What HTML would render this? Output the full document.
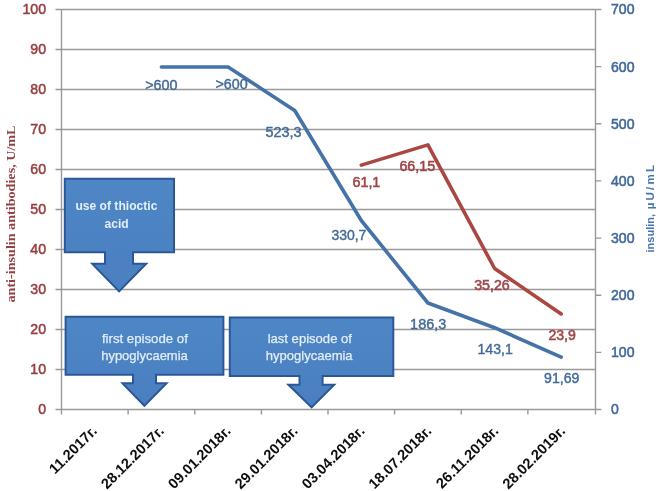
<!DOCTYPE html>
<html><head><meta charset="utf-8"><title>chart</title>
<style>
html,body{margin:0;padding:0;background:#fff;}
svg{display:block;}
text{font-family:"Liberation Sans",sans-serif;}
.ax{font-size:14.6px;stroke-width:0.55;}
.dl{font-size:13.8px;}
.xl{font-weight:bold;font-size:14.6px;fill:#111;}
.bx{font-weight:bold;font-size:12.6px;fill:#e2eff8;}
</style></head><body>
<svg width="661" height="491" viewBox="0 0 661 491">
<defs>
<linearGradient id="bg" x1="0" y1="0" x2="0" y2="1"><stop offset="0" stop-color="#4f86c6"/><stop offset="1" stop-color="#4a7fc0"/></linearGradient>
<filter id="blur" x="-5%" y="-5%" width="110%" height="110%"><feGaussianBlur stdDeviation="0.55"/></filter>
</defs>
<rect width="661" height="491" fill="#fff"/>
<g filter="url(#blur)">
<!-- gridlines -->
<g stroke="#999999" stroke-width="1.4" fill="none">
<path d="M61.5 9.5H595.5M61.5 49.5H595.5M61.5 89.5H595.5M61.5 129.5H595.5M61.5 169.5H595.5M61.5 209.5H595.5M61.5 249.5H595.5M61.5 289.5H595.5M61.5 329.5H595.5M61.5 369.5H595.5M61.5 409.5H595.5"/>
<path d="M61.5 9.5V414.5M595.5 9.5V414.5"/>
<!-- left ticks -->
<path d="M55.5 9.5H61.5M55.5 49.5H61.5M55.5 89.5H61.5M55.5 129.5H61.5M55.5 169.5H61.5M55.5 209.5H61.5M55.5 249.5H61.5M55.5 289.5H61.5M55.5 329.5H61.5M55.5 369.5H61.5M55.5 409.5H61.5"/>
<!-- right ticks -->
<path d="M595.5 9.5H601.3M595.5 66.6H601.3M595.5 123.8H601.3M595.5 180.9H601.3M595.5 238.1H601.3M595.5 295.2H601.3M595.5 352.4H601.3M595.5 409.5H601.3"/>
<!-- x ticks -->
<path d="M128.1 409.5V414.5M194.8 409.5V414.5M261.4 409.5V414.5M328 409.5V414.5M394.6 409.5V414.5M461.3 409.5V414.5M527.9 409.5V414.5"/>
</g>

<!-- arrows -->
<g fill="url(#bg)" stroke="#2c5996" stroke-width="2" stroke-linejoin="miter">
<path d="M64.8 178.8H174V252.3H133V263.8H146.2L119.1 291.4L92.2 263.8H105V252.3H64.8Z"/>
<path d="M65.6 316.8H223.4V374.8H156V383.2H166.6L144.4 405.8L122.4 383.2H133V374.8H65.6Z"/>
<path d="M229.8 317.6H393.3V376H322.6V384.7H334.2L311.6 407.3L288.4 384.7H299.5V376H229.8Z"/>
</g>
<g class="bx" text-anchor="middle" lengthAdjust="spacingAndGlyphs">
<text x="116.4" y="210" textLength="82" lengthAdjust="spacingAndGlyphs">use of thioctic</text>
<text x="116.6" y="227.6" textLength="24.2" lengthAdjust="spacingAndGlyphs">acid</text>
<g style="font-weight:normal;font-size:13px" stroke="#e2eff8" stroke-width="0.25">
<text x="144.9" y="343" textLength="86" lengthAdjust="spacingAndGlyphs">first episode of</text>
<text x="144.5" y="360.3" textLength="86.6" lengthAdjust="spacingAndGlyphs">hypoglycaemia</text>
<text x="309.8" y="342.5" textLength="84.3" lengthAdjust="spacingAndGlyphs">last episode of</text>
<text x="309.2" y="360.3" textLength="86.8" lengthAdjust="spacingAndGlyphs">hypoglycaemia</text>
</g>
</g>

<!-- lines -->
<polyline fill="none" stroke="#4573a7" stroke-width="3.6" stroke-linecap="round" stroke-linejoin="round" points="161.4,67 228.1,67 294.7,110.5 361.3,220.5 427.9,303 494.6,327.7 561.2,357.1"/>
<polyline fill="none" stroke="#aa4643" stroke-width="3.6" stroke-linecap="round" stroke-linejoin="round" points="361.3,165.1 427.9,144.9 494.6,268.5 561.2,313.9"/>

<!-- left axis labels -->
<g class="ax" fill="#973f42" stroke="#973f42" text-anchor="end">
<text x="46" y="14" textLength="23.5" lengthAdjust="spacingAndGlyphs">100</text>
<text x="46" y="54" textLength="15.7" lengthAdjust="spacingAndGlyphs">90</text>
<text x="46" y="94" textLength="15.7" lengthAdjust="spacingAndGlyphs">80</text>
<text x="46" y="134" textLength="15.7" lengthAdjust="spacingAndGlyphs">70</text>
<text x="46" y="174" textLength="15.7" lengthAdjust="spacingAndGlyphs">60</text>
<text x="46" y="214" textLength="15.7" lengthAdjust="spacingAndGlyphs">50</text>
<text x="46" y="254" textLength="15.7" lengthAdjust="spacingAndGlyphs">40</text>
<text x="46" y="294" textLength="15.7" lengthAdjust="spacingAndGlyphs">30</text>
<text x="46" y="334" textLength="15.7" lengthAdjust="spacingAndGlyphs">20</text>
<text x="46" y="374" textLength="15.7" lengthAdjust="spacingAndGlyphs">10</text>
<text x="46" y="414" textLength="7.8" lengthAdjust="spacingAndGlyphs">0</text>
</g>
<!-- right axis labels -->
<g class="ax" fill="#41699a" stroke="#41699a">
<text x="611" y="14" textLength="23.5" lengthAdjust="spacingAndGlyphs">700</text>
<text x="611" y="71.5" textLength="23.5" lengthAdjust="spacingAndGlyphs">600</text>
<text x="611" y="128.5" textLength="23.5" lengthAdjust="spacingAndGlyphs">500</text>
<text x="611" y="185.5" textLength="23.5" lengthAdjust="spacingAndGlyphs">400</text>
<text x="611" y="243" textLength="23.5" lengthAdjust="spacingAndGlyphs">300</text>
<text x="611" y="300" textLength="23.5" lengthAdjust="spacingAndGlyphs">200</text>
<text x="611" y="357" textLength="23.5" lengthAdjust="spacingAndGlyphs">100</text>
<text x="611" y="414" textLength="7.8" lengthAdjust="spacingAndGlyphs">0</text>
</g>
<!-- data labels -->
<g class="dl" fill="#41699a" stroke="#41699a" stroke-width="0.4">
<text x="145.2" y="89.5" textLength="32.3" lengthAdjust="spacingAndGlyphs">&gt;600</text>
<text x="215.5" y="88.7" textLength="32.3" lengthAdjust="spacingAndGlyphs">&gt;600</text>
<text x="265.4" y="136.7" textLength="36.2" lengthAdjust="spacingAndGlyphs">523,3</text>
<text x="331.4" y="240" textLength="35.0" lengthAdjust="spacingAndGlyphs">330,7</text>
<text x="410.1" y="329" textLength="36.2" lengthAdjust="spacingAndGlyphs">186,3</text>
<text x="477.5" y="354" textLength="35.3" lengthAdjust="spacingAndGlyphs">143,1</text>
<text x="544.1" y="383.3" textLength="35.3" lengthAdjust="spacingAndGlyphs">91,69</text>
</g>
<g class="dl" fill="#a04548" stroke="#a04548" stroke-width="0.55">
<text x="352.5" y="186.5" textLength="27.8" lengthAdjust="spacingAndGlyphs">61,1</text>
<text x="399.4" y="170.6" textLength="35.8" lengthAdjust="spacingAndGlyphs">66,15</text>
<text x="474.2" y="290" textLength="35.6" lengthAdjust="spacingAndGlyphs">35,26</text>
<text x="548.4" y="340" textLength="27.4" lengthAdjust="spacingAndGlyphs">23,9</text>
</g>
<!-- axis titles -->
<text transform="translate(15.3,302.5) rotate(-90)" style='font-family:"Liberation Serif",serif;font-weight:bold;font-size:13px' fill="#973f42" textLength="177" lengthAdjust="spacingAndGlyphs">anti-insulin antibodies, U/mL</text>
<text transform="translate(654.4,252.5) rotate(-90)" style="font-weight:bold;font-size:10.8px" fill="#4674b4"><tspan x="0" textLength="38.6" lengthAdjust="spacingAndGlyphs">insulin,</tspan><tspan> </tspan><tspan x="43.2" textLength="44.3" lengthAdjust="spacing" style="font-size:11.6px">µU/mL</tspan></text>
<!-- x labels -->
<g class="xl" text-anchor="end">
<text transform="translate(97.9,432) rotate(-45)">11.2017г.</text>
<text transform="translate(164.8,432) rotate(-45)">28.12.2017г.</text>
<text transform="translate(231.7,432) rotate(-45)">09.01.2018г.</text>
<text transform="translate(298.6,432) rotate(-45)">29.01.2018г.</text>
<text transform="translate(365.5,432) rotate(-45)">03.04.2018г.</text>
<text transform="translate(432.4,432) rotate(-45)">18.07.2018г.</text>
<text transform="translate(499.3,432) rotate(-45)">26.11.2018г.</text>
<text transform="translate(566.2,432) rotate(-45)">28.02.2019г.</text>
</g>
</g>
</svg>
</body></html>
